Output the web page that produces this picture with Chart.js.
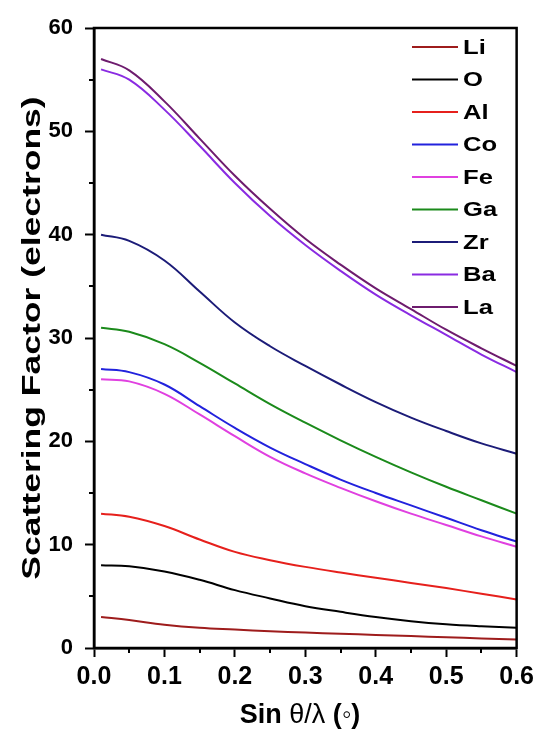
<!DOCTYPE html>
<html>
<head>
<meta charset="utf-8">
<script src="https://cdn.jsdelivr.net/npm/chart.js@4"></script>
<style>
html,body{margin:0;padding:0;background:#fff;}
canvas{display:block;}
</style>
</head>
<body>
<canvas id="c" width="539" height="734"></canvas>
<script>
// ---- data ----
const sinThetaOverLambda = [0.01, 0.05, 0.10, 0.15, 0.20, 0.25, 0.30, 0.35, 0.40, 0.45, 0.50, 0.55, 0.60];
const elementLabels = ["Li", "O", "Al", "Co", "Fe", "Ga", "Zr", "Ba", "La"];
const Li = [3.0, 2.7, 2.25, 1.95, 1.78, 1.62, 1.5, 1.38, 1.27, 1.15, 1.04, 0.93, 0.82];
const O  = [8.0, 7.9, 7.4, 6.6, 5.6, 4.8, 4.05, 3.5, 3.0, 2.6, 2.3, 2.1, 1.95];
const Al = [13.0, 12.7, 11.8, 10.5, 9.3, 8.5, 7.85, 7.3, 6.8, 6.3, 5.8, 5.25, 4.7];
const Co = [27.0, 26.7, 25.5, 23.4, 21.3, 19.4, 17.8, 16.3, 15.0, 13.8, 12.6, 11.4, 10.3];
const Fe = [26.0, 25.8, 24.6, 22.6, 20.5, 18.5, 16.9, 15.5, 14.2, 13.0, 11.9, 10.8, 9.8];
const Ga = [31.0, 30.6, 29.4, 27.6, 25.6, 23.6, 21.8, 20.1, 18.5, 17.0, 15.6, 14.3, 13.0];
const Zr = [40.0, 39.4, 37.5, 34.5, 31.5, 29.2, 27.3, 25.5, 23.8, 22.3, 21.0, 19.8, 18.8];
const Ba = [56.0, 55.0, 52.1, 48.6, 45.0, 41.8, 39.0, 36.5, 34.2, 32.2, 30.3, 28.4, 26.7];
const La = [57.0, 55.9, 52.9, 49.3, 45.7, 42.5, 39.6, 37.1, 34.8, 32.8, 30.8, 29.0, 27.3];
const xTickValues = [0, 0.1, 0.2, 0.3, 0.4, 0.5, 0.6];
const yTickValues = [0, 10, 20, 30, 40, 50, 60];
const xTitleParts = ["Sin ", "θ/λ", " (◦)"];
const yTitle = "Scattering Factor (electrons)";

const seriesValues = [Li, O, Al, Co, Fe, Ga, Zr, Ba, La];
const seriesColors = ["#9e1c1c", "#000000", "#e6201c", "#2222dd", "#e040e0", "#1b8a1b", "#1c1c78", "#8a2be2", "#6e1c6e"];

const datasets = elementLabels.map((lab, i) => ({
  label: lab,
  data: sinThetaOverLambda.map((x, j) => ({x: x, y: seriesValues[i][j]})),
  borderColor: seriesColors[i],
  backgroundColor: seriesColors[i],
  borderWidth: 2,
  pointRadius: 0,
  fill: false,
  tension: 0.4
}));

const FONT = "'Liberation Sans', Arial, sans-serif";

const decorPlugin = {
  id: 'decor',
  afterDraw(chart) {
    const ctx = chart.ctx;
    const a = chart.chartArea;
    const xs = chart.scales.x, ys = chart.scales.y;
    ctx.save();
    ctx.strokeStyle = '#000';
    ctx.lineWidth = 2.5;
    ctx.strokeRect(a.left, a.top, a.right - a.left, a.bottom - a.top);
    // minor ticks
    ctx.lineWidth = 2;
    ctx.beginPath();
    for (let k = 0; k < xTickValues.length - 1; k++) {
      const v = (xTickValues[k] + xTickValues[k + 1]) / 2;
      const px = Math.round(xs.getPixelForValue(v));
      ctx.moveTo(px, a.bottom);
      ctx.lineTo(px, a.bottom + 5);
    }
    for (let k = 0; k < yTickValues.length - 1; k++) {
      const v = (yTickValues[k] + yTickValues[k + 1]) / 2;
      const py = Math.round(ys.getPixelForValue(v));
      ctx.moveTo(a.left, py);
      ctx.lineTo(a.left - 5, py);
    }
    ctx.stroke();

    // legend (text slightly widened like the reference)
    ctx.textBaseline = 'middle';
    ctx.textAlign = 'left';
    chart.data.datasets.forEach((ds, i) => {
      const y = 47 + i * 32.5;
      ctx.strokeStyle = ds.borderColor;
      ctx.lineWidth = 2;
      ctx.beginPath();
      ctx.moveTo(412, y);
      ctx.lineTo(458, y);
      ctx.stroke();
      ctx.save();
      ctx.translate(463, y + 1);
      ctx.scale(1.22, 1);
      ctx.font = "bold 21px " + FONT;
      ctx.fillStyle = '#000';
      ctx.fillText(ds.label, 0, 0);
      ctx.restore();
    });

    // y axis title (stretched along its length like the reference)
    ctx.save();
    ctx.translate(33, (a.top + a.bottom) / 2);
    ctx.rotate(-Math.PI / 2);
    ctx.scale(1.42, 1);
    ctx.font = "bold 25px " + FONT;
    ctx.fillStyle = '#000';
    ctx.textAlign = 'center';
    ctx.textBaseline = 'middle';
    ctx.fillText(yTitle, 0, 0);
    ctx.restore();

    // x axis title with mixed fonts
    ctx.save();
    const fonts = ["bold 27px " + FONT, "27px " + FONT, "bold 27px " + FONT];
    const widths = xTitleParts.map((t, k) => { ctx.font = fonts[k]; return ctx.measureText(t).width; });
    const total = widths.reduce((s, w) => s + w, 0);
    let x = 300 - total / 2;
    ctx.fillStyle = '#000';
    ctx.textAlign = 'left';
    ctx.textBaseline = 'alphabetic';
    xTitleParts.forEach((t, k) => {
      ctx.font = fonts[k];
      ctx.fillText(t, x, 723);
      x += widths[k];
    });
    ctx.restore();
    ctx.restore();
  }
};

new Chart(document.getElementById('c'), {
  type: 'line',
  data: { datasets: datasets },
  options: {
    responsive: false,
    animation: false,
    devicePixelRatio: 1,
    layout: { padding: { left: 0, right: 20, top: 28, bottom: 0 } },
    plugins: { legend: { display: false }, tooltip: { enabled: false } },
    scales: {
      x: {
        type: 'linear',
        min: 0, max: 0.6,
        afterFit(s) { s.height = 86; },
        afterBuildTicks(s) { s.ticks = xTickValues.map(v => ({value: v})); },
        ticks: {
          color: '#000',
          font: { family: FONT, size: 25, weight: 'bold' },
          padding: 5,
          maxRotation: 0,
          callback: v => Number(v).toFixed(1)
        },
        grid: { display: true, drawOnChartArea: false, drawTicks: true, tickLength: 9, tickColor: '#000', tickWidth: 2 },
        border: { display: true, color: '#000', width: 2.5 },
        title: { display: false }
      },
      y: {
        type: 'linear',
        min: 0, max: 60,
        afterFit(s) { s.width = 94; },
        afterBuildTicks(s) { s.ticks = yTickValues.map(v => ({value: v})); },
        ticks: {
          color: '#000',
          font: { family: FONT, size: 22, weight: 'bold' },
          padding: 12
        },
        grid: { display: true, drawOnChartArea: false, drawTicks: true, tickLength: 9, tickColor: '#000', tickWidth: 2 },
        border: { display: true, color: '#000', width: 2.5 },
        title: { display: false }
      }
    }
  },
  plugins: [decorPlugin]
});
</script>
</body>
</html>
